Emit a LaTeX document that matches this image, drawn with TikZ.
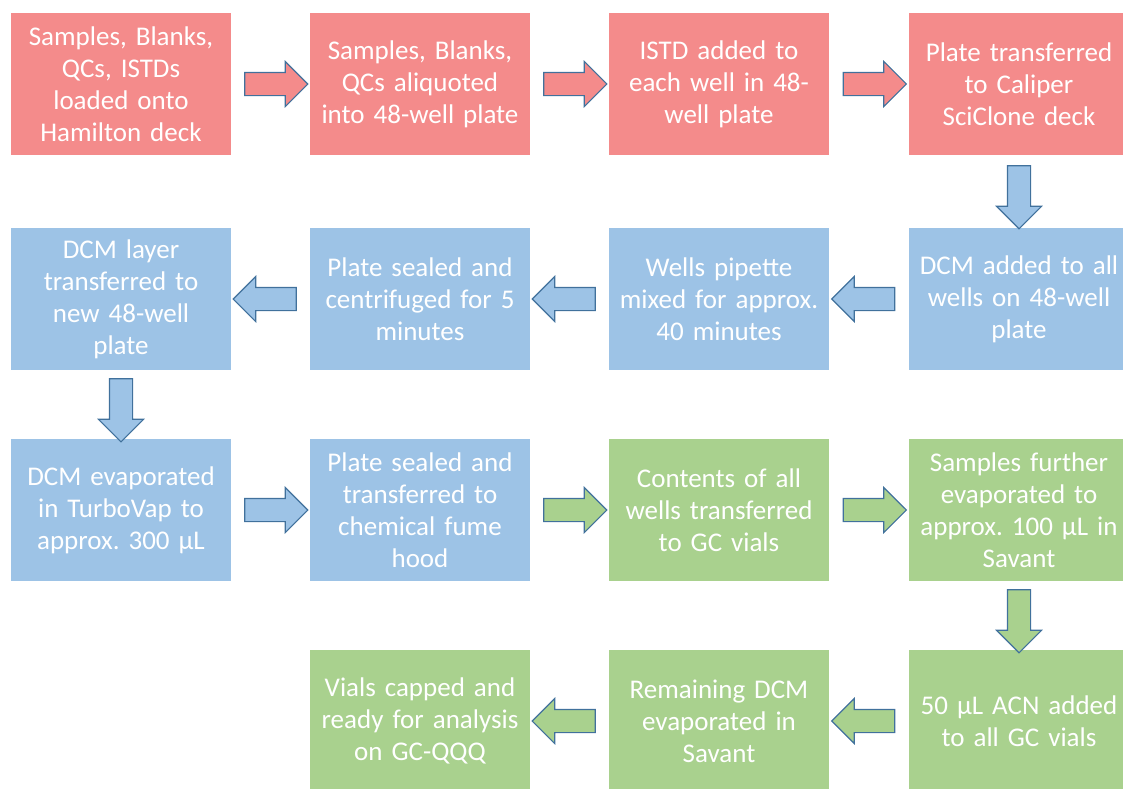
\documentclass[tikz,border=0pt]{standalone}
\usepackage{fontspec}
\setmainfont{Carlito}
\usetikzlibrary{calc,shapes.arrows}
\definecolor{redbox}{HTML}{F48B8B}
\definecolor{bluebox}{HTML}{9DC3E6}
\definecolor{greenbox}{HTML}{A9D18E}
\definecolor{arrowline}{HTML}{41719C}
\frenchspacing

\begin{document}
\begin{tikzpicture}[x=1pt,y=-1pt,
    stepbox/.style={minimum width=220pt,minimum height=142pt,text width=216pt,
      inner sep=0pt,align=center,text=white,
      font=\fontsize{27}{32}\selectfont},
    flowarrow/.style={single arrow,draw=arrowline,line width=1.1pt,
      minimum height=63pt,minimum width=44pt,inner sep=11pt,
      single arrow head extend=11pt,single arrow tip angle=90}]
    \useasboundingbox (0,0) rectangle (1123,788);
    % Row 1
    \node[stepbox,fill=redbox] (hamilton) at (121,84) {Samples, Blanks,\\ QCs, ISTDs\\ loaded onto\\ Hamilton deck};
    \node[stepbox,fill=redbox] (aliquot) at (420,84) {Samples, Blanks,\\ QCs aliquoted\\ into 48-well plate};
    \node[stepbox,fill=redbox] (istd) at (719,84) {ISTD added to\\ each well in 48-\\ well plate};
    \node[stepbox,fill=redbox] (caliper) at (1019,84) {Plate transferred\\ to Caliper\\ SciClone deck};
    % Row 2
    \node[stepbox,fill=bluebox] (dcmadd) at (1019,299) {DCM added to all\\ wells on 48-well\\ plate};
    \node[stepbox,fill=bluebox] (pipette) at (719,299) {Wells pipette\\ mixed for approx.\\ 40 minutes};
    \node[stepbox,fill=bluebox] (centri) at (420,299) {Plate sealed and\\ centrifuged for 5\\ minutes};
    \node[stepbox,fill=bluebox] (layer) at (121,299) {DCM layer\\ transferred to\\ new 48-well\\ plate};
    % Row 3
    \node[stepbox,fill=bluebox] (turbovap) at (121,510) {DCM evaporated\\ in TurboVap to\\ approx. 300 µL};
    \node[stepbox,fill=bluebox] (fumehood) at (420,510) {Plate sealed and\\ transferred to\\ chemical fume\\ hood};
    \node[stepbox,fill=greenbox] (gcvials) at (719,510) {Contents of all\\ wells transferred\\ to GC vials};
    \node[stepbox,fill=greenbox] (savant) at (1019,510) {Samples further\\ evaporated to\\ approx. 100 µL in\\ Savant};
    % Row 4
    \node[stepbox,fill=greenbox] (acn) at (1019,721) {50 µL ACN added\\ to all GC vials};
    \node[stepbox,fill=greenbox] (remaining) at (719,721) {Remaining DCM\\ evaporated in\\ Savant};
    \node[stepbox,fill=greenbox] (capped) at (420,721) {Vials capped and\\ ready for analysis\\ on GC-QQQ};
    % Arrows
    \node[flowarrow,fill=redbox] (a1) at ($(hamilton.east)!0.5!(aliquot.west)$) {};
    \node[flowarrow,fill=redbox] (a2) at ($(aliquot.east)!0.5!(istd.west)$) {};
    \node[flowarrow,fill=redbox] (a3) at ($(istd.east)!0.5!(caliper.west)$) {};
    \node[flowarrow,fill=bluebox,shape border rotate=270] (a4) at ($(caliper.south)!0.5!(dcmadd.north)$) {};
    \node[flowarrow,fill=bluebox,shape border rotate=180] (a5) at ($(dcmadd.west)!0.5!(pipette.east)$) {};
    \node[flowarrow,fill=bluebox,shape border rotate=180] (a6) at ($(pipette.west)!0.5!(centri.east)$) {};
    \node[flowarrow,fill=bluebox,shape border rotate=180] (a7) at ($(centri.west)!0.5!(layer.east)$) {};
    \node[flowarrow,fill=bluebox,shape border rotate=270] (a8) at ($(layer.south)!0.5!(turbovap.north)$) {};
    \node[flowarrow,fill=bluebox] (a9) at ($(turbovap.east)!0.5!(fumehood.west)$) {};
    \node[flowarrow,fill=greenbox] (a10) at ($(fumehood.east)!0.5!(gcvials.west)$) {};
    \node[flowarrow,fill=greenbox] (a11) at ($(gcvials.east)!0.5!(savant.west)$) {};
    \node[flowarrow,fill=greenbox,shape border rotate=270] (a12) at ($(savant.south)!0.5!(acn.north)$) {};
    \node[flowarrow,fill=greenbox,shape border rotate=180] (a13) at ($(acn.west)!0.5!(remaining.east)$) {};
    \node[flowarrow,fill=greenbox,shape border rotate=180] (a14) at ($(remaining.west)!0.5!(capped.east)$) {};
\end{tikzpicture}
\end{document}
